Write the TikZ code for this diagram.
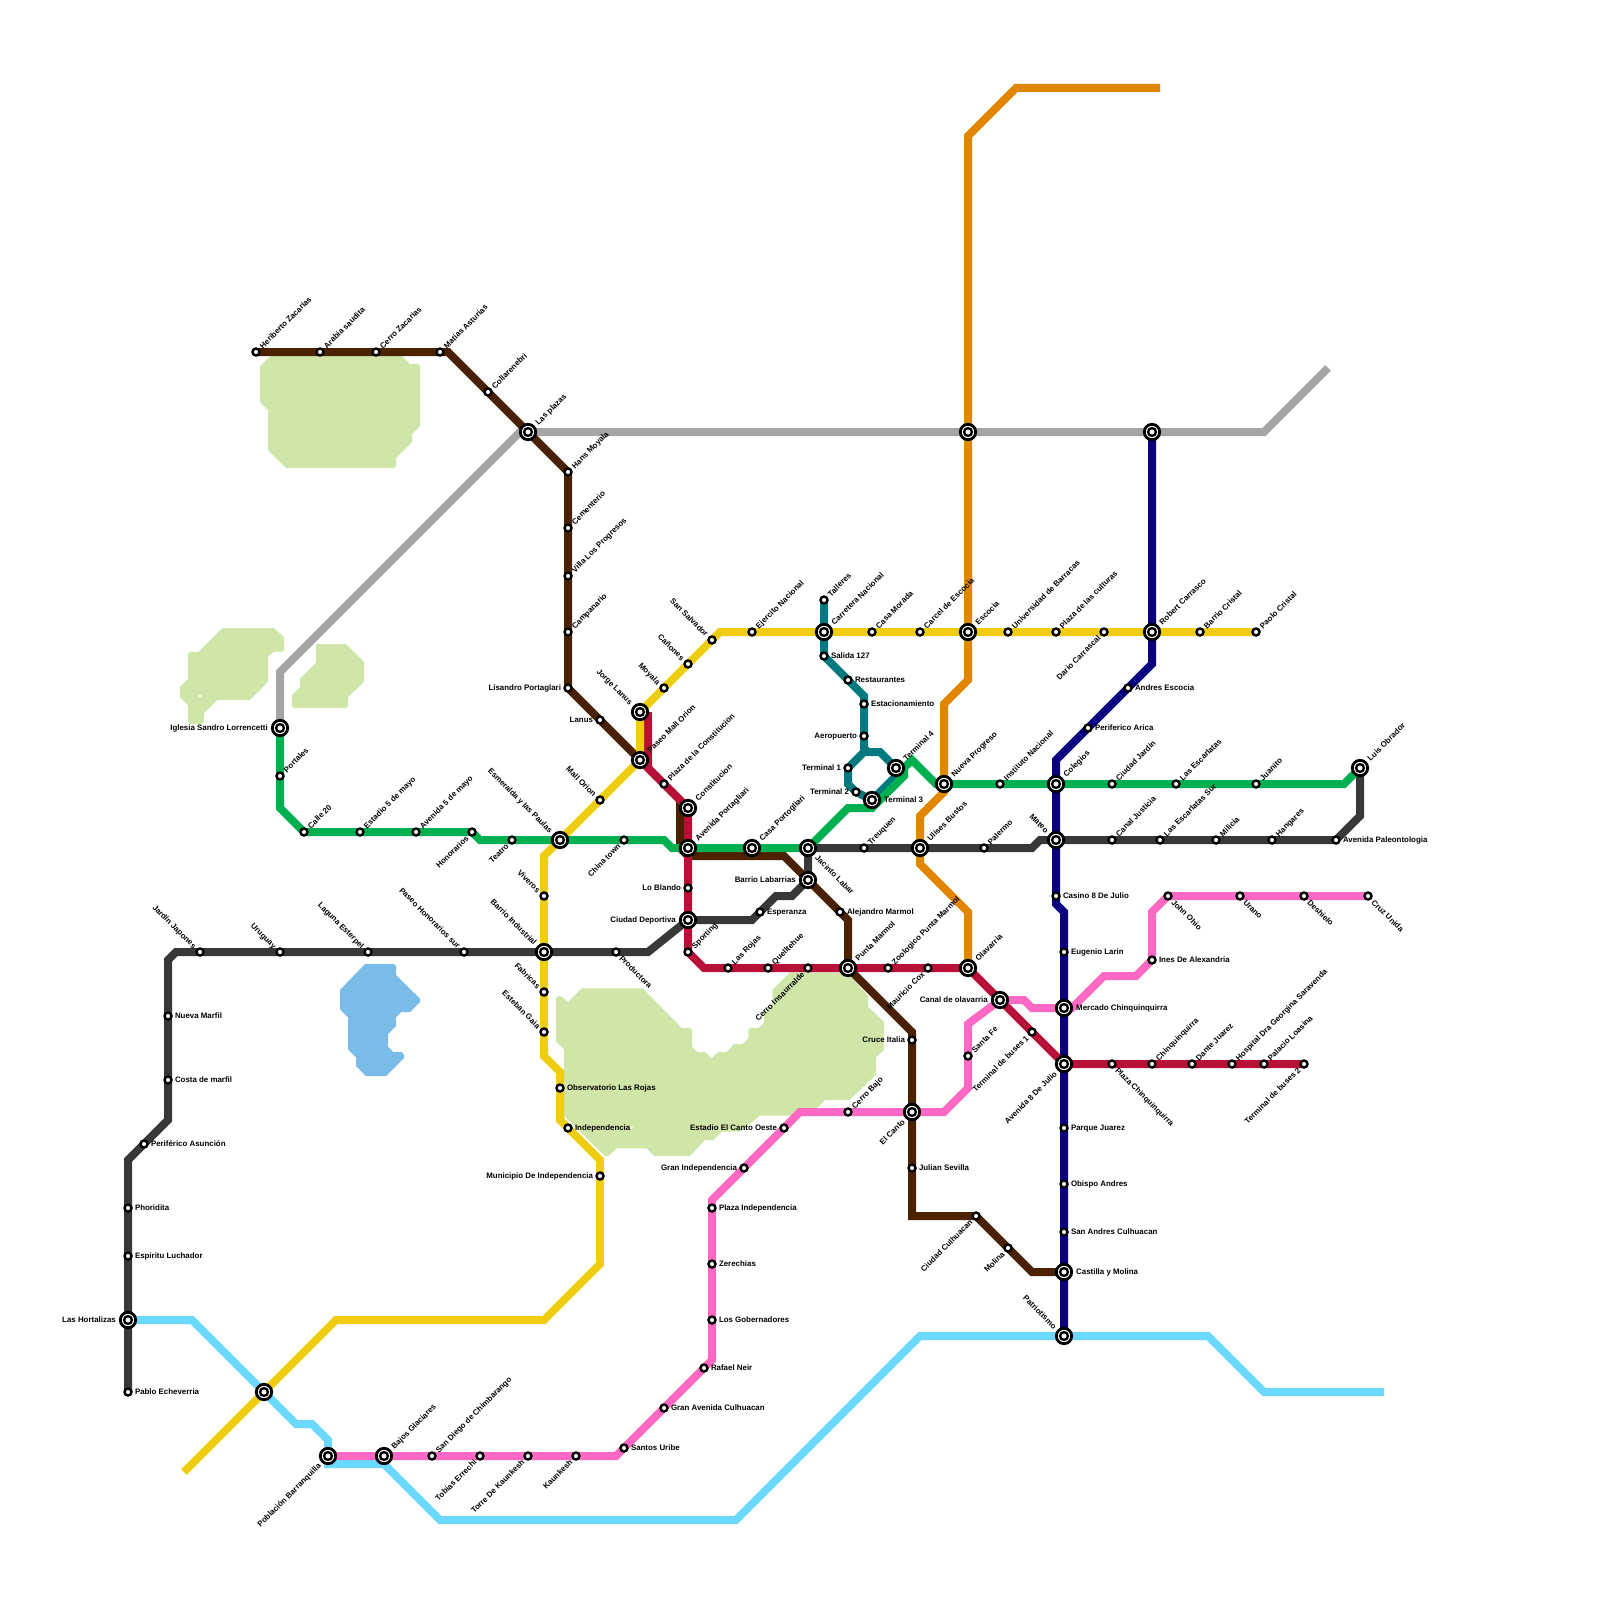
\documentclass[tikz,border=0pt]{standalone}
\usepackage{fontspec}
\setmainfont{Liberation Sans}
\usetikzlibrary{backgrounds}
\definecolor{cbrown}{HTML}{4A2200}
\definecolor{ccrim}{HTML}{B9103A}
\definecolor{cgreen}{HTML}{00B050}
\definecolor{cyell}{HTML}{F0CC12}
\definecolor{cor}{HTML}{E08600}
\definecolor{cnavy}{HTML}{0B0080}
\definecolor{cdark}{HTML}{383838}
\definecolor{cgray}{HTML}{A5A5A5}
\definecolor{cteal}{HTML}{007A7F}
\definecolor{ccyan}{HTML}{6BD8FF}
\definecolor{cpink}{HTML}{FF69C4}
\definecolor{cpark}{HTML}{D0E5A8}
\definecolor{cwater}{HTML}{7ABCE8}
\tikzset{
  rail/.style={line width=4pt,line join=miter,miter limit=4},
  park/.style={fill=cpark},
  water/.style={fill=cwater},
  smallst/.style={circle,draw=black,fill=white,line width=1.2pt,minimum size=3.5pt,inner sep=0pt},
  hubst/.style={circle,draw=black,fill=white,line width=1.4pt,minimum size=7.7pt,inner sep=0pt,
    path picture={\draw[line width=1.2pt] (path picture bounding box.center) circle (1.95pt);}},
  lab/.style={font=\fontsize{3.95}{4.8}\selectfont\bfseries,inner sep=0pt,text height=2.9pt,text depth=0pt,text=black},
  lne/.style={lab,anchor=west,rotate=45,xshift=\lo},
  lse/.style={lab,anchor=west,rotate=-45,xshift=\lo},
  lnw/.style={lab,anchor=east,rotate=-45,xshift=-\lo},
  lsw/.style={lab,anchor=east,rotate=45,xshift=-\lo},
  lr/.style={lab,anchor=west,xshift=\lo},
  ll/.style={lab,anchor=east,xshift=-\lo},
}
\newcommand\stn[5]{\def\lo{3.3pt}\node[smallst] (#1) at (#2,#3) {};\node[#4] (#1t) at (#1.center) {#5};}
\newcommand\hub[5]{\def\lo{5.9pt}\node[hubst] (#1) at (#2,#3) {};\node[#4] (#1t) at (#1.center) {#5};}
\begin{document}
\begin{tikzpicture}[x=0.5pt,y=-0.5pt]
\useasboundingbox (0,0) rectangle (1600,1600);
% stations: brown
\stn{hz}{256}{352}{lne}{Heriberto Zacarias}
\stn{as}{320}{352}{lne}{Arabia saudita}
\stn{cz}{376}{352}{lne}{Cerro Zacarias}
\stn{ma}{440}{352}{lne}{Matias Asturias}
\stn{co}{488}{392}{lne}{Collarenebri}
\hub{lp}{528}{432}{lne}{Las plazas}
\stn{hm}{568}{472}{lne}{Hans Moyala}
\stn{ce}{568}{528}{lne}{Cementerio}
\stn{vp}{568}{576}{lne}{Villa Los Progresos}
\stn{cm}{568}{632}{lne}{Campanario}
\stn{lpo}{568}{688}{ll}{Lisandro Portaglari}
\stn{ln}{600}{720}{ll}{Lanus}
\hub{pmo}{640}{760}{lne}{Paseo Mall Orion}
\hub{jl}{640}{712}{lnw}{Jorge Lanus}
\stn{plc}{664}{784}{lne}{Plaza de la Constitucion}
\hub{cons}{688}{808}{lne}{Constitucion}
\hub{apo}{688}{848}{lne}{Avenida Portagliari}
\stn{lob}{688}{888}{ll}{Lo Blando}
\hub{cdep}{688}{920}{ll}{Ciudad Deportiva}
\stn{spo}{688}{952}{lne}{Sporting}
\hub{cpo}{752}{848}{lne}{Casa Portogliari}
\hub{jac}{808}{848}{lse}{Jacinto Labar}
\hub{bla}{808}{880}{ll}{Barrio Labarrias}
\stn{esp}{760}{912}{lr}{Esperanza}
\stn{ale}{840}{912}{lr}{Alejandro Marmol}
\hub{pum}{848}{968}{lne}{Punta Marmol}
\stn{lro}{728}{968}{lne}{Las Rojas}
\stn{que}{768}{968}{lne}{Quelltehue}
\stn{cin}{808}{968}{lsw}{Cerro Insaurralde}
\stn{zoo}{888}{968}{lne}{Zoologico Punta Marmol}
\stn{mco}{928}{968}{lsw}{Mauricio Cox}
\hub{ola}{968}{968}{lne}{Olavarria}
\hub{cao}{1000}{1000}{ll}{Canal de olavarria}
\stn{tb1}{1032}{1032}{lsw}{Terminal de buses 1}
\hub{a8j}{1064}{1064}{lsw}{Avenida 8 De Julio}
\stn{pch}{1112}{1064}{lse}{Plaza Chinquinquirra}
\stn{chi}{1152}{1064}{lne}{Chinquinquirra}
\stn{dju}{1192}{1064}{lne}{Dante Juarez}
\stn{hos}{1232}{1064}{lne}{Hospital Dra Georgina Saravenda}
\stn{pal}{1264}{1064}{lne}{Palacio Loasina}
\stn{tb2}{1304}{1064}{lsw}{Terminal de buses 2}
\stn{cit}{912}{1040}{ll}{Cruce Italia}
\hub{eca}{912}{1112}{lsw}{El Canto}
\stn{jse}{912}{1168}{lr}{Julian Sevilla}
\stn{ccu}{976}{1216}{lsw}{Ciudad Culhuacan}
\stn{mol}{1008}{1248}{lsw}{Molina}
\hub{cym}{1064}{1272}{lr}{Castilla y Molina}
% green
\hub{igl}{280}{728}{ll}{Iglesia Sandro Lorrencetti}
\stn{por}{280}{776}{lne}{Portales}
\stn{c20}{304}{832}{lne}{Calle 20}
\stn{e5m}{360}{832}{lne}{Estadio 5 de mayo}
\stn{a5m}{416}{832}{lne}{Avenida 5 de mayo}
\stn{hon}{472}{832}{lsw}{Honorarios}
\stn{tea}{512}{840}{lsw}{Teatro}
\hub{esm}{560}{840}{lnw}{Esmeralda y las Paulas}
\stn{cht}{624}{840}{lsw}{China town}
\hub{t3}{872}{800}{lr}{Terminal 3}
\hub{t4}{896}{768}{lne}{Terminal 4}
\hub{npr}{944}{784}{lne}{Nueva Progreso}
\stn{ins}{1000}{784}{lne}{Instituto Nacional}
\hub{col}{1056}{784}{lne}{Colegios}
\stn{cja}{1112}{784}{lne}{Ciudad Jardin}
\stn{les}{1176}{784}{lne}{Las Escarlatas}
\stn{jua}{1256}{784}{lne}{Juanito}
\hub{lob2}{1360}{768}{lne}{Luis Obrador}
% dark
\stn{tre}{864}{848}{lne}{Treuquen}
\hub{ubu}{920}{848}{lne}{Ulises Bustos}
\stn{pmr}{984}{848}{lne}{Palermo}
\hub{mat}{1056}{840}{lnw}{Mateo}
\stn{cju}{1112}{840}{lne}{Canal Justicia}
\stn{lss}{1160}{840}{lne}{Las Escarlatas Sur}
\stn{mil}{1216}{840}{lne}{Milicia}
\stn{han}{1272}{840}{lne}{Hangares}
\stn{apa}{1336}{840}{lr}{Avenida Paleontologia}
\stn{pro}{616}{952}{lse}{Productora}
\hub{bin}{544}{952}{lnw}{Barrio Industrial}
\stn{phs}{464}{952}{lnw}{Paseo Honorarios sur}
\stn{lae}{368}{952}{lnw}{Laguna Esterpel}
\stn{uru}{280}{952}{lnw}{Uruguay}
\stn{jja}{200}{952}{lnw}{Jardín Japones}
\stn{nma}{168}{1016}{lr}{Nueva Marfil}
\stn{cma}{168}{1080}{lr}{Costa de marfil}
\stn{pas}{144}{1144}{lr}{Periférico Asunción}
\stn{pho}{128}{1208}{lr}{Phoridita}
\stn{elu}{128}{1256}{lr}{Espiritu Luchador}
\hub{hor}{128}{1320}{ll}{Las Hortalizas}
\stn{pec}{128}{1392}{lr}{Pablo Echeverria}
% yellow
\stn{sal}{712}{640}{lnw}{San Salvador}
\stn{can}{688}{664}{lnw}{Cañones}
\stn{moy}{664}{688}{lnw}{Moyala}
\stn{eje}{752}{632}{lne}{Ejercito Nacional}
\hub{car}{824}{632}{lne}{Carretera Nacional}
\stn{cmo}{872}{632}{lne}{Casa Morada}
\stn{cdc}{920}{632}{lne}{Carcel de Escocia}
\hub{esc}{968}{632}{lne}{Escocia}
\stn{uba}{1008}{632}{lne}{Universidad de Barracas}
\stn{pcu}{1056}{632}{lne}{Plaza de las culturas}
\stn{dca}{1104}{632}{lsw}{Dario Carrascal}
\hub{rca}{1152}{632}{lne}{Robert Carrasco}
\stn{bcr}{1200}{632}{lne}{Barrio Cristal}
\stn{pcr}{1256}{632}{lne}{Paolo Cristal}
\stn{mor}{600}{800}{lnw}{Mall Orion}
\stn{viv}{544}{896}{lnw}{Viveros}
\stn{fab}{544}{992}{lnw}{Fabricas}
\stn{ega}{544}{1032}{lnw}{Esteban Gaia}
\stn{obs}{560}{1088}{lr}{Observatorio Las Rojas}
\stn{ind}{568}{1128}{lr}{Independencia}
\stn{mun}{600}{1176}{ll}{Municipio De Independencia}
\node[hubst] (hbx) at (264,1392) {};
\node[hubst] (hor1) at (968,432) {};
\node[hubst] (hnv) at (1152,432) {};
% teal
\stn{tal}{824}{600}{lne}{Talleres}
\stn{s12}{824}{656}{lr}{Salida 127}
\stn{res}{848}{680}{lr}{Restaurantes}
\stn{est}{864}{704}{lr}{Estacionamiento}
\stn{aer}{864}{736}{ll}{Aeropuerto}
\stn{t1}{848}{768}{ll}{Terminal 1}
\stn{t2}{856}{792}{ll}{Terminal 2}
% navy
\stn{aes}{1128}{688}{lr}{Andres Escocia}
\stn{par}{1088}{728}{lr}{Periferico Arica}
\stn{c8j}{1056}{896}{lr}{Casino 8 De Julio}
\stn{ela}{1064}{952}{lr}{Eugenio Larin}
\hub{mch}{1064}{1008}{lr}{Mercado Chinquinquirra}
\stn{pju}{1064}{1128}{lr}{Parque Juarez}
\stn{oba}{1064}{1184}{lr}{Obispo Andres}
\stn{sac}{1064}{1232}{lr}{San Andres Culhuacan}
\hub{pat}{1064}{1336}{lnw}{Patriotismo}
% pink
\stn{cru}{1368}{896}{lse}{Cruz Unida}
\stn{des}{1304}{896}{lse}{Deshielo}
\stn{ura}{1240}{896}{lse}{Urano}
\stn{joh}{1168}{896}{lse}{John Ohio}
\stn{ina}{1152}{960}{lr}{Ines De Alexandria}
\stn{sfe}{968}{1056}{lne}{Santa Fe}
\stn{cba}{848}{1112}{lne}{Cerro Bajo}
\stn{eco}{784}{1128}{ll}{Estadio El Canto Oeste}
\stn{gin}{744}{1168}{ll}{Gran Independencia}
\stn{pin}{712}{1208}{lr}{Plaza Independencia}
\stn{zer}{712}{1264}{lr}{Zerechias}
\stn{lgo}{712}{1320}{lr}{Los Gobernadores}
\stn{rne}{704}{1368}{lr}{Rafael Neir}
\stn{gac}{664}{1408}{lr}{Gran Avenida Culhuacan}
\stn{sur}{624}{1448}{lr}{Santos Uribe}
\stn{kau}{576}{1456}{lsw}{Kaunkesh}
\stn{tka}{528}{1456}{lsw}{Torre De Kaunkesh}
\stn{ter}{480}{1456}{lsw}{Tobias Errechi}
\stn{sdc}{432}{1456}{lne}{San Diego de Chimbarango}
\hub{bgl}{384}{1456}{lne}{Bajos Glaciares}
\hub{pba}{328}{1456}{lsw}{Población Barranquilla}
% free line ends
\coordinate (grayend) at (1328,368);
\coordinate (orangeend) at (1160,88);
\coordinate (yellowend) at (184,1472);
\coordinate (cyanend) at (1384,1392);
\begin{pgfonlayer}{background}
% parks and water
\begin{scope}[shift={(500,940)},x=0.1666667pt,y=-0.1666667pt]
\fill[park] (175,168)--(185,170)--(205,186)--(245,145)--(428,145)--(545,264)--(570,264)--(576,270)--(576,320)--(592,336)--(615,336)--(635,355)--(655,336)--(680,336)--(702,312)--(728,312)--(745,296)--(745,270)--(750,264)--(775,264)--(792,248)--(792,215)--(817,192)--(817,150)--(870,97)--(1040,97)--(1104,168)--(1104,200)--(1152,245)--(1152,330)--(1128,352)--(1128,405)--(1048,480)--(975,480)--(950,505)--(905,505)--(880,527)--(780,527)--(720,575)--(665,575)--(640,600)--(615,600)--(570,648)--(462,648)--(440,625)--(350,625)--(325,648)--(315,648)--(192,528)--(192,328)--(168,305)--(168,175)--cycle;
\fill[white] (395,563) circle (0.7pt);
\end{scope}
\begin{scope}[shift={(160,600)},x=0.1666667pt,y=-0.1666667pt]
\fill[park] (90,156)--(115,156)--(187,84)--(342,84)--(372,112)--(372,150)--(366,155)--(342,155)--(324,170)--(324,245)--(270,300)--(172,300)--(132,340)--(132,365)--(125,372)--(92,372)--(84,365)--(84,316)--(60,292)--(60,260)--(84,237)--(84,160)--cycle;
\fill[white] (120,288) circle (0.8pt);
\fill[park] (468,132)--(558,132)--(612,186)--(612,245)--(564,292)--(564,318)--(558,324)--(402,324)--(396,318)--(396,285)--(420,262)--(420,236)--(468,188)--cycle;
\end{scope}
\begin{scope}[shift={(240,290)},x=0.1666667pt,y=-0.1666667pt]
\fill[park] (92,198)--(486,198)--(510,222)--(535,222)--(540,228)--(540,408)--(516,432)--(516,456)--(468,504)--(468,528)--(462,534)--(138,534)--(84,480)--(84,360)--(60,336)--(60,228)--cycle;
\end{scope}
\begin{scope}[shift={(320,940)},x=0.1666667pt,y=-0.1666667pt]
\fill[water] (135,72)--(222,72)--(228,78)--(228,105)--(300,176)--(300,186)--(270,216)--(244,216)--(228,232)--(228,258)--(204,282)--(204,320)--(220,336)--(246,336)--(252,346)--(252,354)--(198,408)--(138,408)--(108,378)--(108,352)--(84,328)--(84,232)--(60,208)--(60,150)--cycle;
\end{scope}
% lines
\draw[rail,cgray] (igl.center)--(280,672)--(520,432)--(hor1.center)--(hnv.center)--(1264,432)--(grayend);
\draw[rail,cor] (orangeend)--(1016,88)--(968,136)--(hor1.center)--(esc.center)--(968,680)--(944,704)--(npr.center)--(944,792)--(920,816)--(ubu.center)--(920,864)--(968,912)--(ola.center);
\draw[rail,ccyan] (hor.center)--(192,1320)--(hbx.center)--(296,1424)--(312,1424)--(328,1440)--(pba.center)--(328,1464)--(384,1464)--(440,1520)--(736,1520)--(920,1336)--(pat.center)--(1208,1336)--(1264,1392)--(cyanend);
\draw[rail,cteal] (tal.center)--(s12.center)--(864,696)--(aer.center)--(864,752)--(t1.center)--(848,784)--(t2.center)--(t3.center)--(896,776)--(t4.center)--(880,752)--(868,752)--(864,748);
\draw[rail,cbrown] (hz.center)--(448,352)--(lp.center)--(hm.center)--(lpo.center)--(pmo.center)--(680,800)--(680,848)--(688,856)--(784,856)--(bla.center)--(848,920)--(pum.center)--(912,1032)--(eca.center)--(912,1216)--(ccu.center)--(1032,1272)--(cym.center);
\draw[rail,ccrim] (648,712)--(648,768)--(cons.center)--(spo.center)--(704,968)--(ola.center)--(a8j.center)--(tb2.center);
\draw[rail,cyell] (pcr.center)--(720,632)--(jl.center)--(pmo.center)--(esm.center)--(544,856)--(ega.center)--(544,1056)--(560,1072)--(560,1120)--(600,1160)--(600,1264)--(544,1320)--(336,1320)--(yellowend);
\draw[rail,cdark] (jac.center)--(1032,848)--(1040,840)--(apa.center)--(1360,816)--(lob2.center);
\draw[rail,cdark] (jac.center)--(bla.center)--(792,896)--(776,896)--(752,920)--(cdep.center)--(648,952)--(176,952)--(168,960)--(168,1120)--(128,1160)--(pec.center);
\draw[rail,cgreen] (igl.center)--(280,808)--(c20.center)--(hon.center)--(480,840)--(664,840)--(672,848)--(jac.center)--(848,808)--(872,808)--(904,776)--(904,768)--(912,760)--(936,784)--(1344,784)--(lob2.center);
\draw[rail,cnavy] (hnv.center)--(1152,664)--(1056,760)--(c8j.center)--(1056,904)--(1064,912)--(pat.center);
\draw[rail,cpink] (cru.center)--(joh.center)--(1152,912)--(ina.center)--(1136,976)--(1104,976)--(1072,1008)--(1032,1008)--(1024,1000)--(cao.center)--(968,1024)--(968,1088)--(944,1112)--(800,1112)--(712,1200)--(712,1360)--(616,1456)--(pba.center);
\end{pgfonlayer}
\end{tikzpicture}
\end{document}
